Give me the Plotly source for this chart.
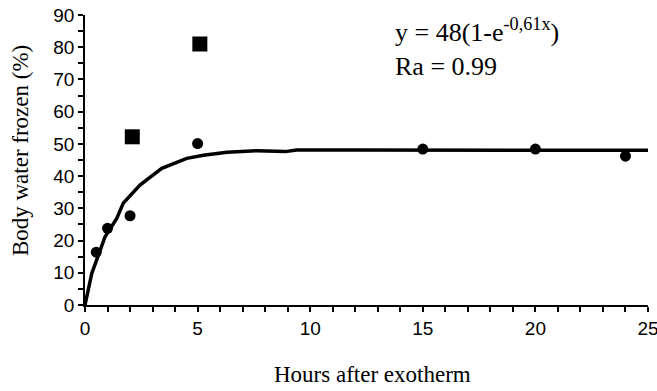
import plotly.graph_objects as go

# Measured data (circles)
circ_x = [0.5, 1, 2, 5, 15, 20, 24]
circ_y = [16.4, 23.8, 27.7, 50.1, 48.4, 48.4, 46.2]
# Squares
sq_x = [2.1, 5.1]
sq_y = [52.2, 81]
# Fitted curve as drawn
fit_x = [0, 0.3, 0.52, 0.89, 1.41, 1.7, 2.44, 3.41, 4.52, 5.26, 6.3, 7.63, 8.9, 9.4, 12, 15, 20, 25]
fit_y = [0, 9.8, 14, 21.2, 26.9, 31.6, 37.2, 42.4, 45.5, 46.5, 47.4, 47.9, 47.6, 48.1, 48.1, 48.1, 48.1, 48.0]

x_ticks = [0, 5, 10, 15, 20, 25]
y_ticks = [0, 10, 20, 30, 40, 50, 60, 70, 80, 90]

serif = "Liberation Serif"

fig = go.Figure()
fig.add_trace(go.Scatter(x=fit_x, y=fit_y, mode="lines",
                         line=dict(color="black", width=3.5), showlegend=False))
fig.add_trace(go.Scatter(x=circ_x, y=circ_y, mode="markers",
                         marker=dict(color="black", size=11, symbol="circle"), showlegend=False))
fig.add_trace(go.Scatter(x=sq_x, y=sq_y, mode="markers",
                         marker=dict(color="black", size=15, symbol="square"), showlegend=False))

fig.add_annotation(x=0.547, y=0.945, xref="paper", yref="paper", xanchor="left", yanchor="middle",
                   text="y = 48(1-e<sup>-0,61x</sup>)", align="left", showarrow=False,
                   font=dict(family=serif, size=26, color="black"))
fig.add_annotation(x=0.547, y=0.824, xref="paper", yref="paper", xanchor="left", yanchor="middle",
                   text="Ra = 0.99", align="left", showarrow=False,
                   font=dict(family=serif, size=26, color="black"))
# Axis titles
fig.add_annotation(x=-0.1155, y=0.534, xref="paper", yref="paper", xanchor="center", yanchor="middle",
                   text="Body water frozen (%)", textangle=-90, showarrow=False,
                   font=dict(family=serif, size=23, color="black"))
fig.add_annotation(x=0.51, y=-0.241, xref="paper", yref="paper", xanchor="center", yanchor="middle",
                   text="Hours after exotherm", showarrow=False,
                   font=dict(family=serif, size=23, color="black"))

fig.update_layout(
    width=657, height=391,
    margin=dict(l=85, r=9, t=15, b=86),
    plot_bgcolor="white", paper_bgcolor="white",
    font=dict(family="Liberation Sans", color="black"),
    xaxis=dict(range=[0, 25], tickvals=x_ticks, ticktext=[str(v) for v in x_ticks],
               showline=True, linecolor="black", linewidth=1.5, ticks="outside", ticklen=5,
               tickcolor="black", tickwidth=1.5, showgrid=False, zeroline=False,
               tickfont=dict(size=19, family="Liberation Sans"), ticklabeloverflow="allow",
               automargin=False,
               minor=dict(dtick=1, ticks="outside", ticklen=5, tickcolor="black", tickwidth=1.5)),
    yaxis=dict(range=[0, 90], tickvals=y_ticks, ticktext=[str(v) for v in y_ticks],
               showline=True, linecolor="black", linewidth=1.5, ticks="outside", ticklen=5,
               tickcolor="black", tickwidth=1.5, showgrid=False, zeroline=False,
               tickfont=dict(size=19, family="Liberation Sans"), ticklabeloverflow="allow",
               automargin=False,
               minor=dict(dtick=5, ticks="outside", ticklen=5, tickcolor="black", tickwidth=1.5)),
)
fig.update_traces(cliponaxis=False)

fig.write_html("out.html", config={"displayModeBar": False},
               post_script="document.body.style.margin='0';document.body.style.overflow='hidden';")
